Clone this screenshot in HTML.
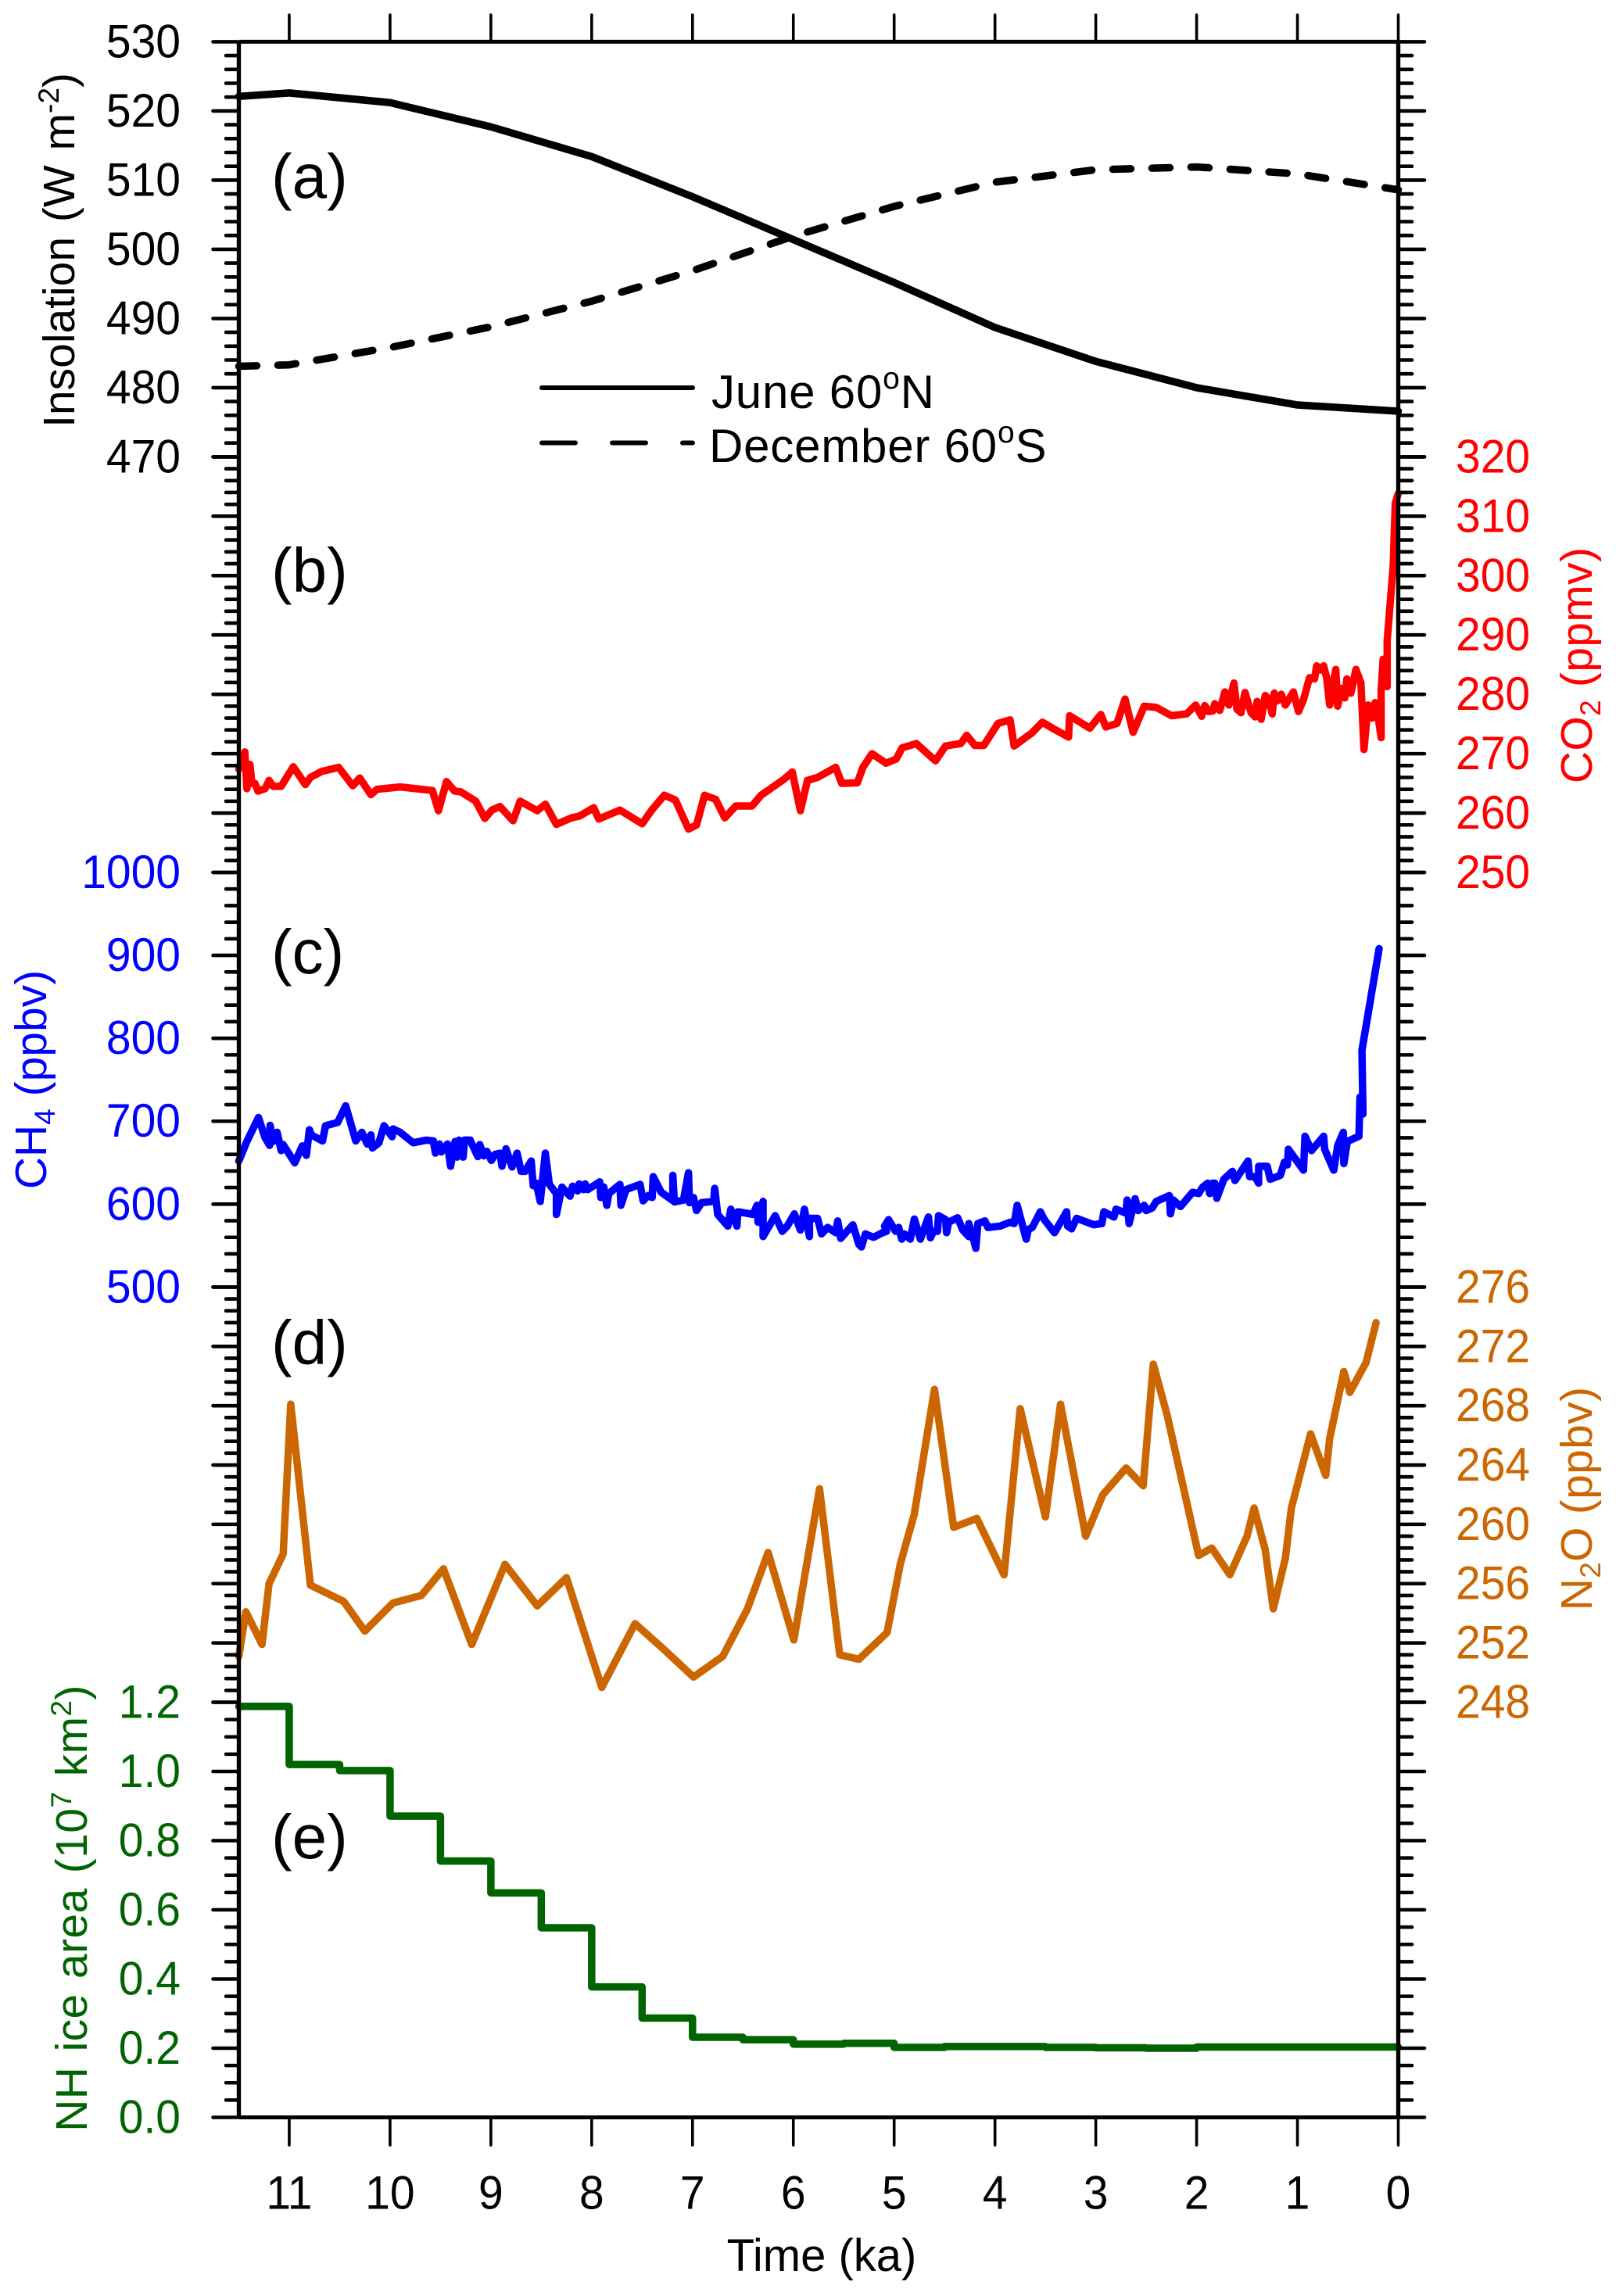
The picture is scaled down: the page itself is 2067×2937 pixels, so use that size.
<!DOCTYPE html>
<html lang="en">
<head>
<meta charset="utf-8">
<title>Holocene forcings</title>
<style>
html,body{margin:0;padding:0;background:#fff;}
svg{display:block;}
text{font-family:"Liberation Sans",sans-serif;}
</style>
</head>
<body>
<svg id="chart" xmlns="http://www.w3.org/2000/svg" width="2067" height="2937" viewBox="0 0 2067 2937">
<rect x="0" y="0" width="2067" height="2937" fill="#fff"/>
<g id="series"></g>
<g id="axes"></g>
<g id="labels" font-size="57"></g>

<text transform="translate(95 320) rotate(-90)" text-anchor="middle" font-size="57" word-spacing="3" fill="#000">Insolation (W m<tspan dy="-20" font-size="37">-2</tspan><tspan dy="20">)</tspan></text>
<text transform="translate(2036 851) rotate(-90)" text-anchor="middle" font-size="57" letter-spacing="0.3" fill="#ff0000">CO<tspan dy="11" font-size="37">2</tspan><tspan dy="-11"> (ppmv)</tspan></text>
<text transform="translate(59 1381) rotate(-90)" text-anchor="middle" font-size="57" fill="#0000ff">CH<tspan dy="11" font-size="37">4</tspan><tspan dy="-11"> (ppbv)</tspan></text>
<text transform="translate(2036 1917) rotate(-90)" text-anchor="middle" font-size="57" letter-spacing="0.3" fill="#cc6600">N<tspan dy="11" font-size="37">2</tspan><tspan dy="-11">O (ppbv)</tspan></text>
<text transform="translate(111 2441) rotate(-90)" text-anchor="middle" font-size="57" letter-spacing="0.4" word-spacing="3" fill="#006400">NH ice area (10<tspan dy="-20" font-size="37">7</tspan><tspan dy="20"> km</tspan><tspan dy="-20" font-size="37">2</tspan><tspan dy="20">)</tspan></text>
<text x="1051" y="2905" text-anchor="middle" font-size="58" fill="#000">Time (ka)</text>

<text x="347" y="253" font-size="80" fill="#000">(a)</text>
<text x="347" y="757" font-size="80" fill="#000">(b)</text>
<text x="347" y="1245" font-size="80" fill="#000">(c)</text>
<text x="347" y="1745" font-size="80" fill="#000">(d)</text>
<text x="347" y="2377" font-size="80" fill="#000">(e)</text>

<g>
<line x1="693" y1="496" x2="886" y2="496" stroke="#000" stroke-width="6" stroke-linecap="round"/>
<text x="910" y="522" font-size="60" letter-spacing="0.8" fill="#000">June 60<tspan dy="-25" font-size="39">o</tspan><tspan dy="25">N</tspan></text>
<line x1="693" y1="566.5" x2="886" y2="566.5" stroke="#000" stroke-width="6" stroke-linecap="round" stroke-dasharray="43 47"/>
<text x="907" y="591" font-size="60" letter-spacing="0.8" fill="#000">December 60<tspan dy="-25" font-size="39">o</tspan><tspan dy="25">S</tspan></text>
</g>
</svg>

<script>
const xTickLabels = [11,10,9,8,7,6,5,4,3,2,1,0];

const insolTicks = [530,520,510,500,490,480,470];
const co2Ticks = [320,310,300,290,280,270,260,250];
const ch4Ticks = [1000,900,800,700,600,500];
const n2oTicks = [276,272,268,264,260,256,252,248];
const iceTicks = ["1.2","1.0","0.8","0.6","0.4","0.2","0.0"];

const insolTime = [11.5,11,10,9,8,7,6,5,4,3,2,1,0];
const juneValues = [522.1,522.6,521.2,517.7,513.4,507.6,501.4,495.2,488.7,483.8,480,477.5,476.6];
const decemberValues = [483.1,483.3,485.8,488.8,492.5,496.9,501.9,506.2,509.7,511.5,511.9,510.9,508.6];

const co2Time = [11.5,11.44,11.42,11.39,11.37,11.34,11.31,11.24,11.20,11.16,11.08,10.96,10.84,10.79,10.68,10.51,10.37,10.30,10.19,10.13,9.90,9.58,9.52,9.44,9.36,9.30,9.15,9.06,8.99,8.91,8.78,8.71,8.54,8.46,8.35,8.20,8.12,7.98,7.93,7.72,7.50,7.40,7.28,7.17,7.04,6.96,6.88,6.77,6.68,6.57,6.41,6.32,6.10,6.01,5.93,5.86,5.76,5.58,5.52,5.365,5.31,5.22,5.08,4.98,4.92,4.78,4.59,4.49,4.34,4.28,4.20,4.11,3.97,3.85,3.81,3.69,3.64,3.53,3.41,3.27,3.26,3.06,2.95,2.90,2.79,2.71,2.63,2.52,2.40,2.25,2.10,2.01,1.95,1.92,1.88,1.84,1.82,1.77,1.72,1.68,1.63,1.60,1.56,1.52,1.46,1.42,1.40,1.36,1.32,1.29,1.25,1.23,1.20,1.16,1.12,1.04,0.99,0.94,0.88,0.83,0.81,0.77,0.74,0.71,0.68,0.62,0.60,0.57,0.53,0.51,0.47,0.42,0.37,0.34,0.30,0.26,0.23,0.20,0.17,0.17,0.15,0.11,0.11,0.05,0.03,0];
const co2Values = [267.4,270.3,264.1,268.2,265,265,263.7,264.1,265.5,264.5,264.5,267.8,264.8,266,267,267.7,264.6,265.9,263.1,264,264.4,263.8,260.4,265.3,263.7,263.6,262,259.1,260.5,261.1,258.7,262,260.4,261.5,258.1,259.2,259.5,260.9,259,260.5,258.2,260.6,263,262.2,257.3,258,263,262.3,259.2,261.2,261.2,263,265.6,266.9,260.4,265.5,266,267.7,265,265.1,267.7,270,268.4,269.1,271,271.7,268.8,271.3,271.7,273.1,271.4,271.4,275.1,275.7,271.3,272.8,273.4,275.3,274.1,272.8,276.4,274.3,276.6,274.5,275.1,279.2,273.6,278,277.8,276.4,276.7,278.2,276.3,278.1,277.1,277.2,278.4,277.3,280.4,278.2,281.9,277.5,276.9,280.3,276.9,276.2,278.8,275.8,279.8,279.3,276.7,280.2,278.9,280,278.2,280.4,277.1,279.1,282.8,282.6,284.8,284.1,284.8,282.8,278.2,284.2,278,281,279.4,282.6,280.2,284.2,281.9,270.7,278.2,276,278.6,276.2,272.7,280.6,285.9,281.3,289,301.7,312.2,313.8];

const ch4Time = [11.5,11.42,11.305,11.24,11.195,11.19,11.16,11.12,11.08,11.06,10.945,10.87,10.83,10.80,10.78,10.67,10.64,10.52,10.44,10.34,10.28,10.225,10.19,10.175,10.11,10.06,9.98,9.97,9.90,9.77,9.64,9.57,9.55,9.51,9.49,9.43,9.40,9.355,9.335,9.315,9.275,9.26,9.205,9.13,9.11,9.07,9.04,8.995,8.96,8.91,8.89,8.85,8.79,8.74,8.70,8.66,8.60,8.58,8.55,8.51,8.46,8.42,8.35,8.35,8.295,8.215,8.19,8.14,8.125,8.08,8.065,8.04,7.92,7.91,7.88,7.85,7.83,7.72,7.71,7.66,7.52,7.49,7.44,7.40,7.39,7.31,7.195,7.195,7.18,7.09,7.04,7.03,6.99,6.96,6.91,6.79,6.78,6.75,6.65,6.62,6.56,6.55,6.40,6.36,6.35,6.30,6.30,6.18,6.11,6.06,5.99,5.93,5.89,5.84,5.84,5.76,5.72,5.66,5.58,5.56,5.53,5.41,5.35,5.325,5.285,5.205,5.115,5.075,5.095,5.055,4.985,4.955,4.925,4.90,4.84,4.80,4.74,4.66,4.64,4.61,4.57,4.56,4.49,4.48,4.46,4.37,4.32,4.26,4.26,4.22,4.19,4.17,4.10,4.07,3.95,3.85,3.81,3.78,3.69,3.67,3.63,3.55,3.51,3.41,3.29,3.28,3.24,3.19,3.02,2.94,2.92,2.82,2.80,2.70,2.69,2.67,2.61,2.58,2.52,2.50,2.44,2.40,2.27,2.26,2.23,2.16,2.04,1.98,1.94,1.89,1.87,1.84,1.82,1.80,1.73,1.645,1.62,1.49,1.475,1.42,1.385,1.385,1.30,1.27,1.17,1.13,1.10,1.09,0.94,0.925,0.86,0.74,0.73,0.64,0.60,0.545,0.54,0.505,0.39,0.38,0.35,0.36,0.19];
const ch4Values = [652,675.6,704.5,680.3,670.9,695.1,675.6,686.6,664.6,671.8,649.8,670.3,658.9,689.7,683.5,676.2,694.5,698.5,718.6,676.2,686.6,672.5,683.5,667.7,674,694.5,681.3,690.7,686.6,674,677.2,676.2,661.5,672.5,663,672.5,645.7,675.6,656.7,677.2,656.7,677.2,677.2,657.4,671.8,658.3,663.7,652.7,659.9,661.5,645.7,666.8,644.8,661.5,639.5,639.5,652,622.2,625.3,603.3,661.5,623.8,612.8,587.6,620.6,609.6,621.6,615.9,624.4,617.5,624.4,617.5,626.9,608,620.6,598.6,612.8,623.8,598.6,617.5,623.8,604,610.3,608,633.2,614.3,604.3,634.8,602.7,604.9,637.9,601.8,608,592.3,601.8,603.3,619,587.6,573.5,593.9,573.5,590.8,587.6,598.6,578.2,603.3,560.9,586.1,567.2,573.5,588.3,568.8,593.9,560.9,582.9,582.9,564.1,571.9,565.6,579.8,558.7,575.1,551.5,548.4,564.1,560,565.6,567.2,573.5,581.3,567.2,571.9,557.8,564.1,557.8,582,557.8,584.5,559.4,567.2,567.2,586.1,581.3,565.6,578.2,583.5,568.8,560.9,576.6,560.9,546.8,576.6,579.8,571.9,573.5,578.2,576.6,598.6,557.8,569.4,571.9,590.8,581.3,565.6,590.8,573.5,570.3,582.9,575.1,576.6,590.8,584.5,593.9,589.2,604.9,576.6,606.5,592.3,598.6,592.3,595.5,603.3,610.3,588.3,604.9,597.1,614.3,612.8,620.6,625.3,612.8,625.3,625.3,607.1,630,639.5,628.5,652,633.2,633.2,625.3,645.7,645.7,630,634.8,650.5,647.3,666.2,641,681.9,664.6,681.9,666.2,641,670.9,686.6,648.9,675.6,681.9,729,708.6,785.6,908.1];

const n2oTime = [11.5,11.43,11.27,11.20,11.06,10.985,10.79,10.46,10.25,9.97,9.69,9.47,9.19,8.86,8.54,8.25,7.90,7.57,7.29,6.99,6.70,6.455,6.25,5.995,5.74,5.54,5.35,5.07,4.94,4.80,4.60,4.41,4.18,3.91,3.75,3.50,3.35,3.10,2.93,2.70,2.53,2.43,2.29,1.98,1.85,1.67,1.50,1.43,1.32,1.24,1.12,1.06,0.87,0.72,0.68,0.54,0.48,0.32,0.22];
const n2oValues = [251.1,254.1,251.9,256,258,268.1,255.9,254.8,252.8,254.7,255.2,257,251.9,257.3,254.5,256.4,249,253.3,251.6,249.7,251.1,254.3,258.1,252.2,262.4,251.2,250.9,252.7,257.3,260.7,269.1,259.8,260.4,256.6,267.8,260.5,268.1,259.2,262,263.8,262.6,270.8,267.3,257.9,258.4,256.6,259.2,261.1,258.3,254.3,257.7,261.1,266.1,263.3,265.8,270.3,268.9,270.9,273.6];

const iceEdges = [11.5,11,10.5,10,9.5,9,8.5,8,7.5,7,6.5,6,5.5,5,4.5,4,3.5,3,2.5,2,0];
const iceValues = [1.188,1.020,1.0025,0.871,0.741,0.649,0.548,0.377,0.287,0.2315,0.2245,0.2117,0.214,0.2024,0.2047,0.2047,0.2024,0.2012,0.2,0.2035];

const NS = "http://www.w3.org/2000/svg";
const seriesLayer = document.getElementById("series");
const axesLayer = document.getElementById("axes");
const labelLayer = document.getElementById("labels");

const LEFT = 305.5, RIGHT = 1788.5, TOP = 53.4, BOTTOM = 2708.5;
const xScale = t => RIGHT - t * 128.96;
function yScale(v0, y0, v1, y1) {
  return v => y0 + (v - v0) * (y1 - y0) / (v1 - v0);
}
const yInsol = yScale(530, 53.4, 470, 584.4);
const yCo2 = yScale(320, 584.4, 250, 1116);
const yCh4 = yScale(1000, 1116, 500, 1646.4);
const yN2o = yScale(276, 1646.4, 248, 2177.5);
const yIce = yScale(1.2, 2177.5, 0, 2708.5);

function make(tag, parent) {
  const el = document.createElementNS(NS, tag);
  parent.appendChild(el);
  return el;
}
function linePath(times, values, y) {
  return times.map((t, i) => (i ? "L" : "M") + xScale(t).toFixed(2) + " " + y(values[i]).toFixed(2)).join("");
}
function stylePath(el, color, dash) {
  el.setAttribute("fill", "none");
  el.setAttribute("stroke", color);
  el.setAttribute("stroke-width", "9.5");
  el.setAttribute("stroke-linejoin", "round");
  el.setAttribute("stroke-linecap", "round");
  if (dash) el.setAttribute("stroke-dasharray", dash);
}
function stretchLabel(el, y) {
  el.setAttribute("transform", "translate(0 " + y + ") scale(1 1.06) translate(0 " + (-y) + ")");
}

const junePath = make("path", seriesLayer);


junePath.setAttribute("d", linePath(insolTime, juneValues, yInsol));
stylePath(junePath, "#000");

const decPath = make("path", seriesLayer);


decPath.setAttribute("d", linePath(insolTime, decemberValues, yInsol));
stylePath(decPath, "#000", "23 27");

const co2Path = make("path", seriesLayer);


co2Path.setAttribute("d", linePath(co2Time, co2Values, yCo2));
stylePath(co2Path, "#ff0000");

const ch4Path = make("path", seriesLayer);


ch4Path.setAttribute("d", linePath(ch4Time, ch4Values, yCh4));
stylePath(ch4Path, "#0000ff");

const n2oPath = make("path", seriesLayer);


n2oPath.setAttribute("d", linePath(n2oTime, n2oValues, yN2o));
stylePath(n2oPath, "#cc6600");

let iceD = "";
iceValues.forEach((v, i) => {
  const y = yIce(v).toFixed(2);
  iceD += (i ? "L" : "M") + xScale(iceEdges[i]).toFixed(2) + " " + y + "L" + xScale(iceEdges[i + 1]).toFixed(2) + " " + y;
});
const icePath = make("path", seriesLayer);


icePath.setAttribute("d", iceD);
stylePath(icePath, "#006400");

function drawLine(x1, y1, x2, y2, w, cap) {
  const l = make("line", axesLayer);
  l.setAttribute("x1", x1);
  l.setAttribute("y1", y1);
  l.setAttribute("x2", x2);
  l.setAttribute("y2", y2);
  l.setAttribute("stroke", "#000");
  l.setAttribute("stroke-width", w);
  l.setAttribute("stroke-linecap", cap);
  return l;
}

const axisLeft = drawLine(LEFT, TOP, LEFT, BOTTOM, 5.4, "butt");


const axisRight = drawLine(RIGHT, TOP, RIGHT, BOTTOM, 5.4, "butt");


const axisTop = drawLine(LEFT, TOP, RIGHT, TOP, 5, "butt");


const axisBottom = drawLine(LEFT, BOTTOM, RIGHT, BOTTOM, 5, "butt");



xTickLabels.forEach(t => {
  const x = xScale(t);
  const up = drawLine(x, TOP, x, 19, 3.6, "round");
  
  
  const down = drawLine(x, BOTTOM, x, 2744, 3.6, "round");
  
  
  const lab = make("text", labelLayer);
  
  
  lab.setAttribute("x", x);
  lab.setAttribute("y", 2825.5);
  lab.setAttribute("text-anchor", "middle");
  stretchLabel(lab, 2825.5);
  lab.textContent = t;
});

function yAxisTicks(section, ticks, yFn, minorCount, color, side) {
  const nums = ticks.map(Number);
  nums.forEach((v, i) => {
    const y = yFn(v);
    const majorL = drawLine(LEFT - 2, y, 272.5, y, 4.6, "round");
    
    
    const majorR = drawLine(RIGHT + 2, y, 1822, y, 4.6, "round");
    
    
    const lab = make("text", labelLayer);
    
    
    lab.setAttribute("y", y + 20);
    lab.setAttribute("fill", color);
    stretchLabel(lab, y + 20);
    if (side === "left") {
      lab.setAttribute("x", 231);
      lab.setAttribute("text-anchor", "end");
    } else {
      lab.setAttribute("x", 1862);
      lab.setAttribute("text-anchor", "start");
    }
    lab.textContent = ticks[i];
    if (i < nums.length - 1) {
      const next = yFn(nums[i + 1]);
      for (let k = 1; k <= minorCount; k++) {
        const ym = y + (next - y) * k / (minorCount + 1);
        const minorL = drawLine(LEFT - 2, ym, 289, ym, 4.6, "round");
        
        
        const minorR = drawLine(RIGHT + 2, ym, 1806, ym, 4.6, "round");
        
        
      }
    }
  });
}
yAxisTicks("insolation", insolTicks, yInsol, 4, "#000", "left");
yAxisTicks("co2", co2Ticks, yCo2, 4, "#ff0000", "right");
yAxisTicks("ch4", ch4Ticks, yCh4, 4, "#0000ff", "left");
yAxisTicks("n2o", n2oTicks, yN2o, 4, "#cc6600", "right");
yAxisTicks("ice", iceTicks, yIce, 3, "#006400", "left");
</script>
</body>
</html>
